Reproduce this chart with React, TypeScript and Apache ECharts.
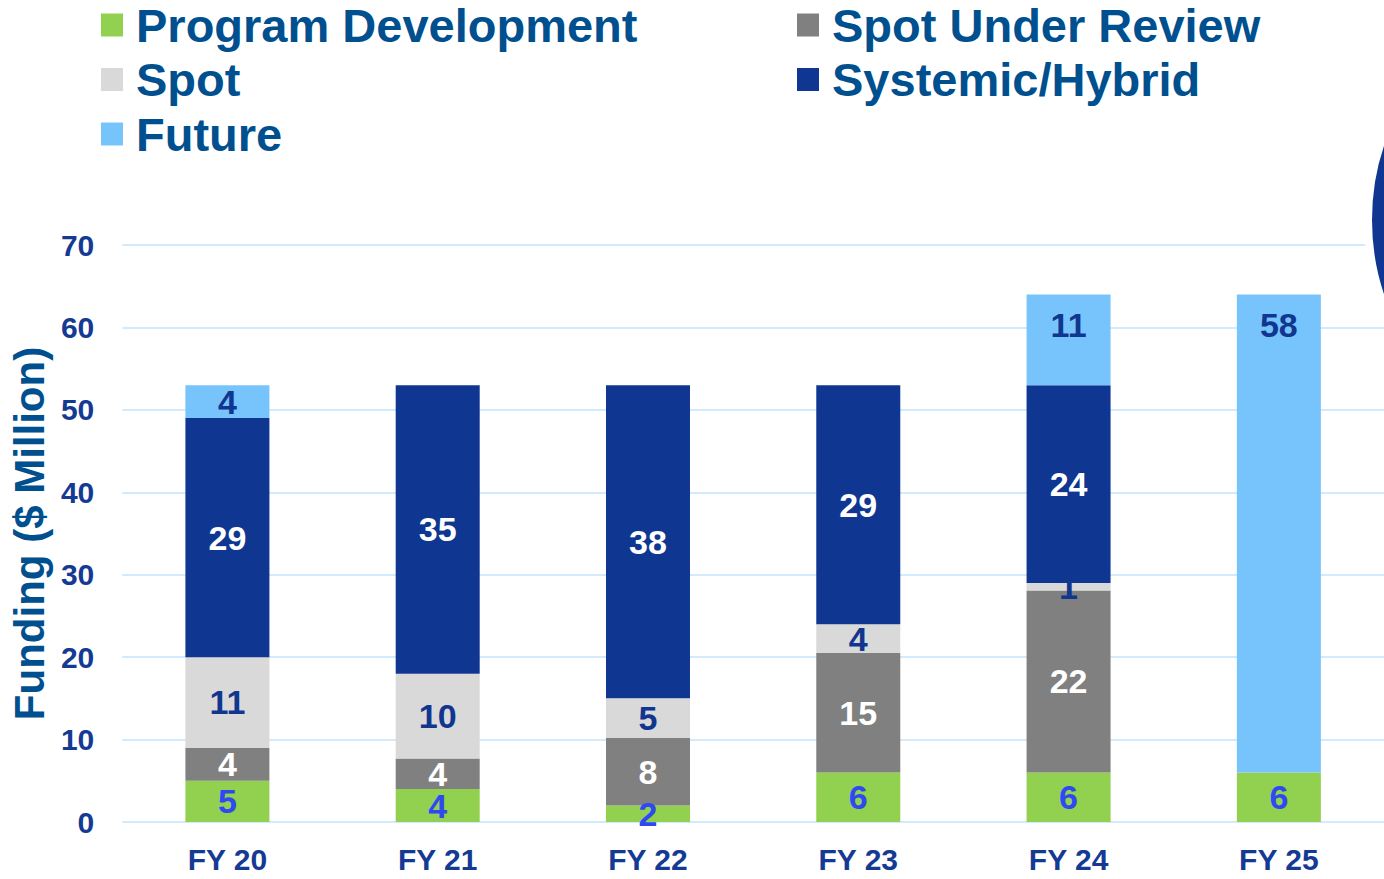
import React, { useEffect, useRef } from "react";
import * as echarts from "echarts";

const categories = ["FY 20", "FY 21", "FY 22", "FY 23", "FY 24", "FY 25"];
const programDevelopment = [5, 4, 2, 6, 6, 6];
const spotUnderReview: (number | string)[] = [4, 3.7, 8.2, 14.5, 22.1, "-"];
const spot: (number | string)[] = [11, 10.3, 4.8, 3.5, 0.9, "-"];
const systemicHybrid: (number | string)[] = [29, 35, 38, 29, 24, "-"];
const future: (number | string)[] = [4, "-", "-", "-", 11, 58];
const yTicks = { min: 0, max: 70, interval: 10 };

const FONT = '"Liberation Sans", Arial, sans-serif';
const NAVY = "#153a94";
const LEGEND_BLUE = "#00508f";

export default function App() {
  const ref = useRef<HTMLDivElement>(null);
  useEffect(() => {
    if (!ref.current) return;
    const chart = echarts.init(ref.current, undefined, { renderer: "svg" });
    const fmt = (p: any) => String(Math.round(Number(p.value)));
    const mk = (name: string, data: any[], color: string, labelColor: string) => ({
      name,
      type: "bar",
      stack: "total",
      data,
      barWidth: 84,
      itemStyle: { color },
      label: {
        show: true,
        position: "inside",
        formatter: fmt,
        color: labelColor,
        fontSize: 34,
        fontWeight: "bold",
        fontFamily: FONT,
      },
    });
    const futureData = future.map((v) =>
      typeof v === "number" && v > 8
        ? { value: v, label: { position: "insideTop", distance: 14 } }
        : v
    );
    const legendText = {
      fontSize: 47,
      fontWeight: "bold",
      fontFamily: FONT,
      color: LEGEND_BLUE,
      lineHeight: 50,
      padding: [0, 0, 0, 8],
    };
    const legendBase = {
      orient: "vertical",
      top: 0,
      padding: 0,
      itemWidth: 22,
      itemHeight: 23,
      itemGap: 4.5,
      icon: "rect",
      textStyle: legendText,
      selectedMode: false,
    };
    chart.setOption({
      animation: false,
      legend: [
        { ...legendBase, data: ["Program Development", "Spot", "Future"], left: 101 },
        { ...legendBase, data: ["Spot Under Review", "Systemic/Hybrid"], left: 797 },
      ],
      grid: { left: 120, right: 0, top: 245, bottom: 57, containLabel: false },
      xAxis: {
        type: "category",
        data: categories,
        axisLine: { show: false },
        axisTick: { show: false },
        axisLabel: {
          fontSize: 30,
          fontWeight: "bold",
          fontFamily: FONT,
          color: NAVY,
          margin: 22,
        },
      },
      yAxis: {
        type: "value",
        min: yTicks.min,
        max: yTicks.max,
        interval: yTicks.interval,
        name: "Funding ($ Million)",
        nameLocation: "middle",
        nameRotate: 90,
        nameGap: 70,
        nameTextStyle: {
          fontSize: 42,
          fontWeight: "bold",
          fontFamily: FONT,
          color: LEGEND_BLUE,
        },
        axisLine: { show: false },
        axisTick: { show: false },
        splitLine: { lineStyle: { color: "#d3eafc", width: 2 } },
        axisLabel: {
          fontSize: 30,
          fontWeight: "bold",
          fontFamily: FONT,
          color: NAVY,
          margin: 28,
        },
      },
      series: [
        mk("Program Development", programDevelopment, "#92d050", "#2f49f2"),
        mk("Spot Under Review", spotUnderReview, "#808080", "#ffffff"),
        mk("Spot", spot, "#d9d9d9", "#10368f"),
        mk("Systemic/Hybrid", systemicHybrid, "#0f3690", "#ffffff"),
        mk("Future", futureData, "#77c4fd", "#10368f"),
      ],
      graphic: [
        {
          type: "circle",
          shape: { cx: 1604, cy: 220, r: 236 },
          style: { fill: "#0f3690", stroke: "#ffffff", lineWidth: 8 },
          z: 100,
        },
      ],
    });
    return () => chart.dispose();
  }, []);
  return (
    <div
      ref={ref}
      style={{ position: "absolute", left: 0, top: 0, width: 1384, height: 879 }}
    />
  );
}
